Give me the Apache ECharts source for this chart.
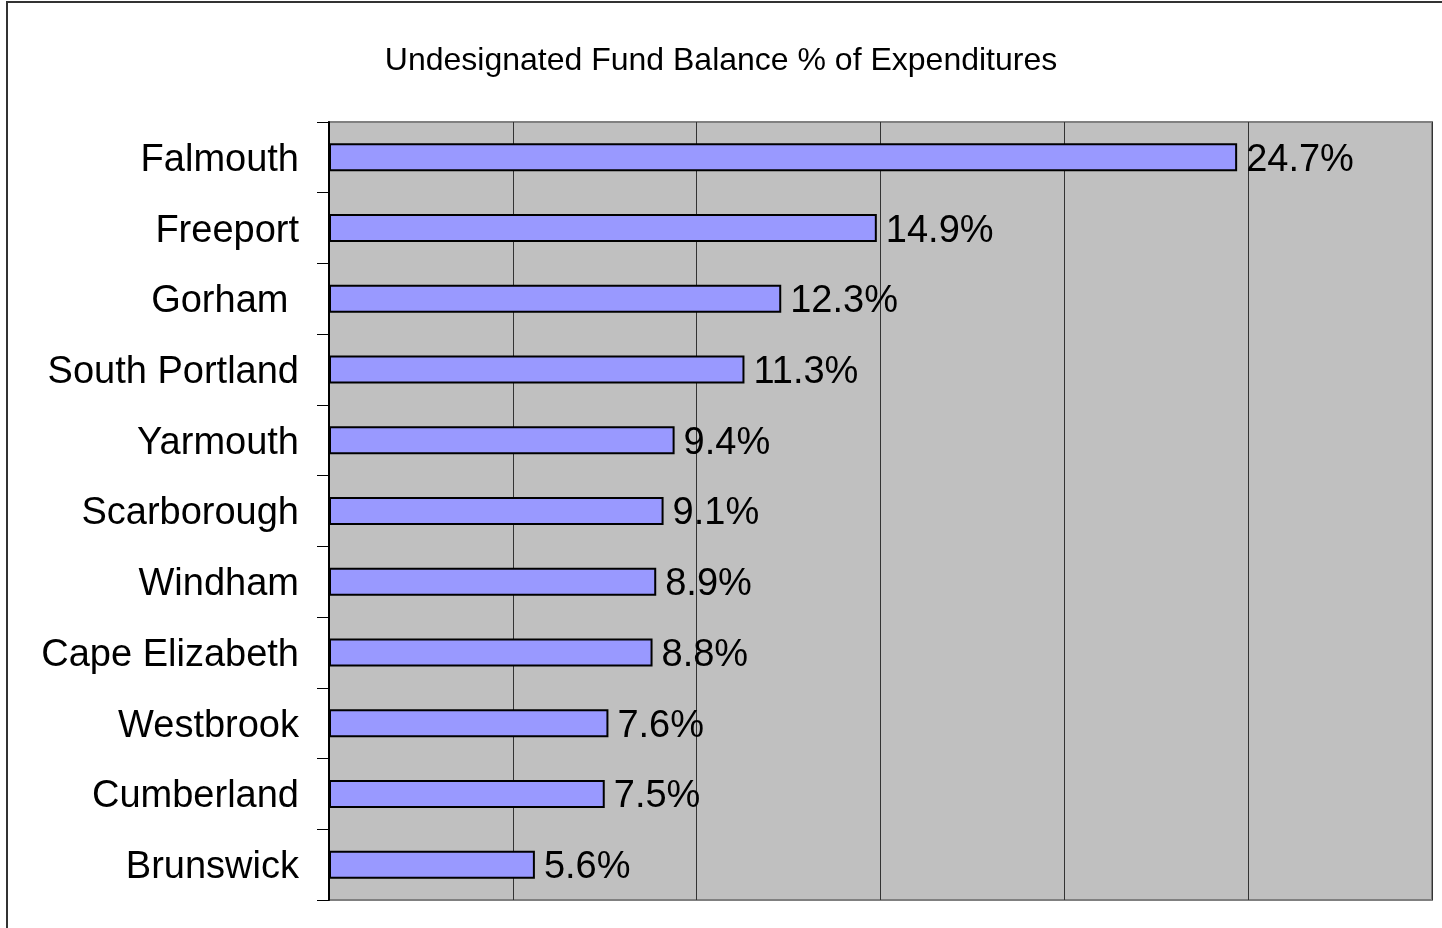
<!DOCTYPE html>
<html>
<head>
<meta charset="utf-8">
<script src="https://cdn.jsdelivr.net/npm/echarts@6/dist/echarts.min.js"></script>
<style>
  html, body { margin: 0; padding: 0; background: #fff; }
  #chart { width: 1442px; height: 928px; }
</style>
</head>
<body>
<div id="chart"></div>
<script>
// towns, top to bottom as shown
var towns = ['Falmouth', 'Freeport', 'Gorham ', 'South Portland', 'Yarmouth', 'Scarborough',
  'Windham', 'Cape Elizabeth', 'Westbrook', 'Cumberland', 'Brunswick']
var balancePct = [24.7, 14.9, 12.3, 11.3, 9.4, 9.1, 8.9, 8.8, 7.6, 7.5, 5.6]

var font = '"Liberation Sans", Arial, sans-serif'
var chart = echarts.init(document.getElementById('chart'))

chart.setOption({
  animation: false,
  title: {
    text: 'Undesignated Fund Balance % of Expenditures',
    left: 'center',
    top: 40,
    textStyle: { fontFamily: font, fontSize: 32, fontWeight: 'normal', color: '#000' }
  },
  grid: { left: 329, right: 10, top: 122, bottom: 28, show: true, backgroundColor: '#c0c0c0', borderColor: '#808080', borderWidth: 2 },
  xAxis: {
    type: 'value', min: 0, max: 30, interval: 5,
    axisLabel: { show: false },
    axisTick: { show: false },
    axisLine: { show: false },
    splitLine: { lineStyle: { color: '#333', width: 1 } }
  },
  yAxis: {
    type: 'category',
    inverse: true,
    data: towns,
    axisLine: { show: true, lineStyle: { color: '#000', width: 2 } },
    axisTick: { show: true, inside: false, length: 12, alignWithLabel: false, lineStyle: { color: '#000', width: 1 } },
    axisLabel: {
      margin: 30, color: '#000', fontFamily: font, fontSize: 38,
      formatter: function (v) { return '{t|' + v + '}' },
      rich: { t: { fontFamily: font, fontSize: 38, color: '#000', padding: [6, 0, 0, 0] } }
    }
  },
  series: [{
    type: 'bar',
    data: balancePct,
    barWidth: 28,
    itemStyle: { color: '#9999ff', borderColor: '#000', borderWidth: 2 },
    label: {
      show: true, position: 'right', distance: 9, offset: [0, 3],
      formatter: function (p) { return p.value.toFixed(1) + '%' },
      color: '#000', fontFamily: font, fontSize: 38
    }
  }],
  graphic: [
    { type: 'line', shape: { x1: 7, y1: 2, x2: 7, y2: 928 }, style: { stroke: '#333', lineWidth: 2 } },
    { type: 'line', shape: { x1: 6, y1: 2, x2: 1442, y2: 2 }, style: { stroke: '#333', lineWidth: 2 } }
  ]
})
</script>
</body>
</html>
